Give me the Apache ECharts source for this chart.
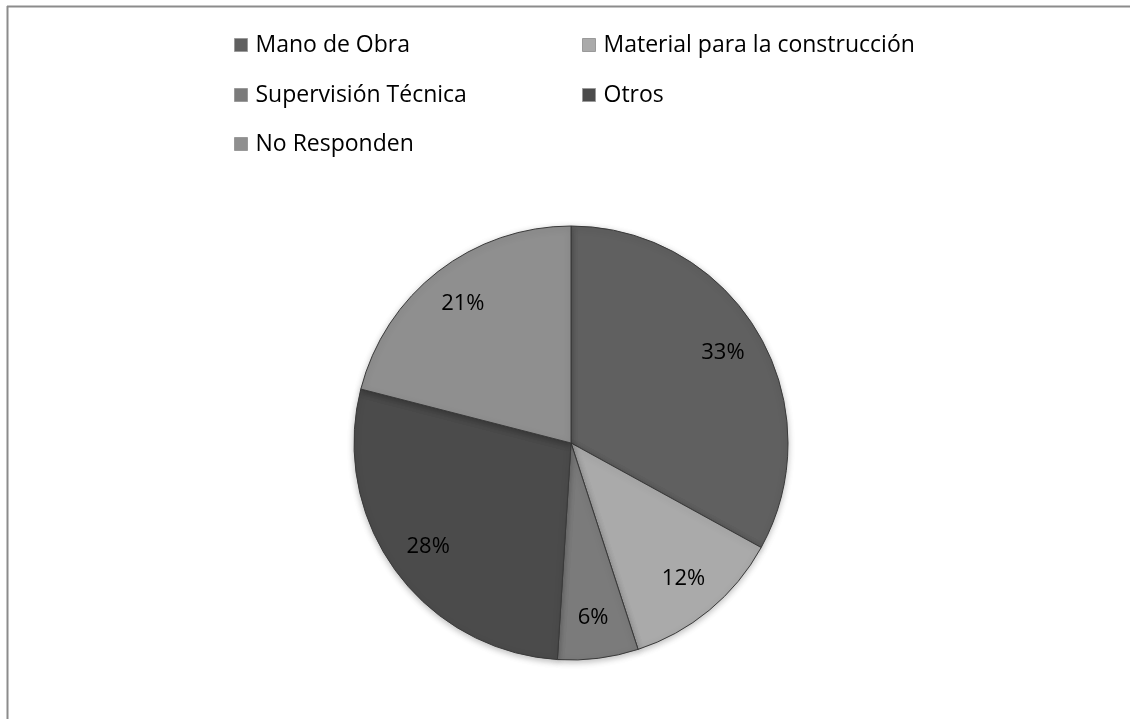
<!DOCTYPE html>
<html>
<head>
<meta charset="utf-8">
<script src="https://cdn.jsdelivr.net/npm/echarts@6/dist/echarts.min.js"></script>
<style>
  html, body { margin: 0; padding: 0; background: #ffffff; }
  #chart { width: 1130px; height: 719px; }
</style>
</head>
<body>
<div id="chart"></div>
<script>
// Destino de los recursos: porcentaje de respuestas
const categories = ['Mano de Obra', 'Material para la construcción', 'Supervisión Técnica', 'Otros', 'No Responden'];
const values = [33, 12, 6, 28, 21];
const colors = ['#606060', '#aaaaaa', '#7b7b7b', '#4b4b4b', '#8f8f8f'];

// legend layout: two columns, three rows
const legendCols = [234, 582];
const legendRows = [45, 95, 144];
const legendSlots = [[0, 0], [1, 0], [0, 1], [1, 1], [0, 2]];

const pieData = categories.map((name, i) => ({
  name: name,
  value: values[i],
  itemStyle: { color: colors[i] }
}));

const chart = echarts.init(document.getElementById('chart'), null, { renderer: 'canvas' });

const font = '"Open Sans", "Noto Sans", sans-serif';

const legends = categories.map((name, i) => ({
  orient: 'horizontal',
  left: legendCols[legendSlots[i][0]],
  top: legendRows[legendSlots[i][1]] - 13,
  padding: 0,
  itemWidth: 13,
  itemHeight: 13,
  icon: 'rect',
  selectedMode: false,
  data: [name],
  textStyle: {
    fontFamily: font, fontSize: 23, lineHeight: 26, color: '#000000',
    padding: [0, 0, 0, 3]
  },
  itemStyle: { borderColor: '#9a9a9a', borderWidth: 1 }
}));

chart.setOption({
  animation: false,
  backgroundColor: '#ffffff',
  graphic: [
    {
      type: 'line',
      shape: { x1: 7.5, y1: 6, x2: 7.5, y2: 719 },
      style: { stroke: '#8c8c8c', lineWidth: 2 },
      silent: true
    },
    {
      type: 'line',
      shape: { x1: 7, y1: 6.5, x2: 1130, y2: 6.5 },
      style: { stroke: '#8c8c8c', lineWidth: 2 },
      silent: true
    }
  ],
  legend: legends,
  series: [
    {
      type: 'pie',
      center: [571, 443],
      radius: [0, 217],
      startAngle: 90,
      clockwise: true,
      silent: true,
      label: { show: false },
      labelLine: { show: false },
      itemStyle: {
        borderColor: '#3a3a3a',
        borderWidth: 1,
        shadowBlur: 6,
        shadowColor: 'rgba(0,0,0,0.25)',
        shadowOffsetY: 2
      },
      data: pieData
    },
    {
      // transparent ring used only to place the percentage labels near the rim
      type: 'pie',
      center: [571, 443],
      radius: [130, 217],
      startAngle: 90,
      clockwise: true,
      silent: true,
      legendHoverLink: false,
      itemStyle: { color: 'rgba(0,0,0,0)', borderWidth: 0 },
      label: {
        show: true,
        position: 'inside',
        formatter: p => p.value + '%',
        fontFamily: font,
        fontSize: 22,
        color: '#000000'
      },
      labelLine: { show: false },
      data: categories.map((name, i) => ({ name: name + ' ', value: values[i] }))
    }
  ]
});
</script>
</body>
</html>
